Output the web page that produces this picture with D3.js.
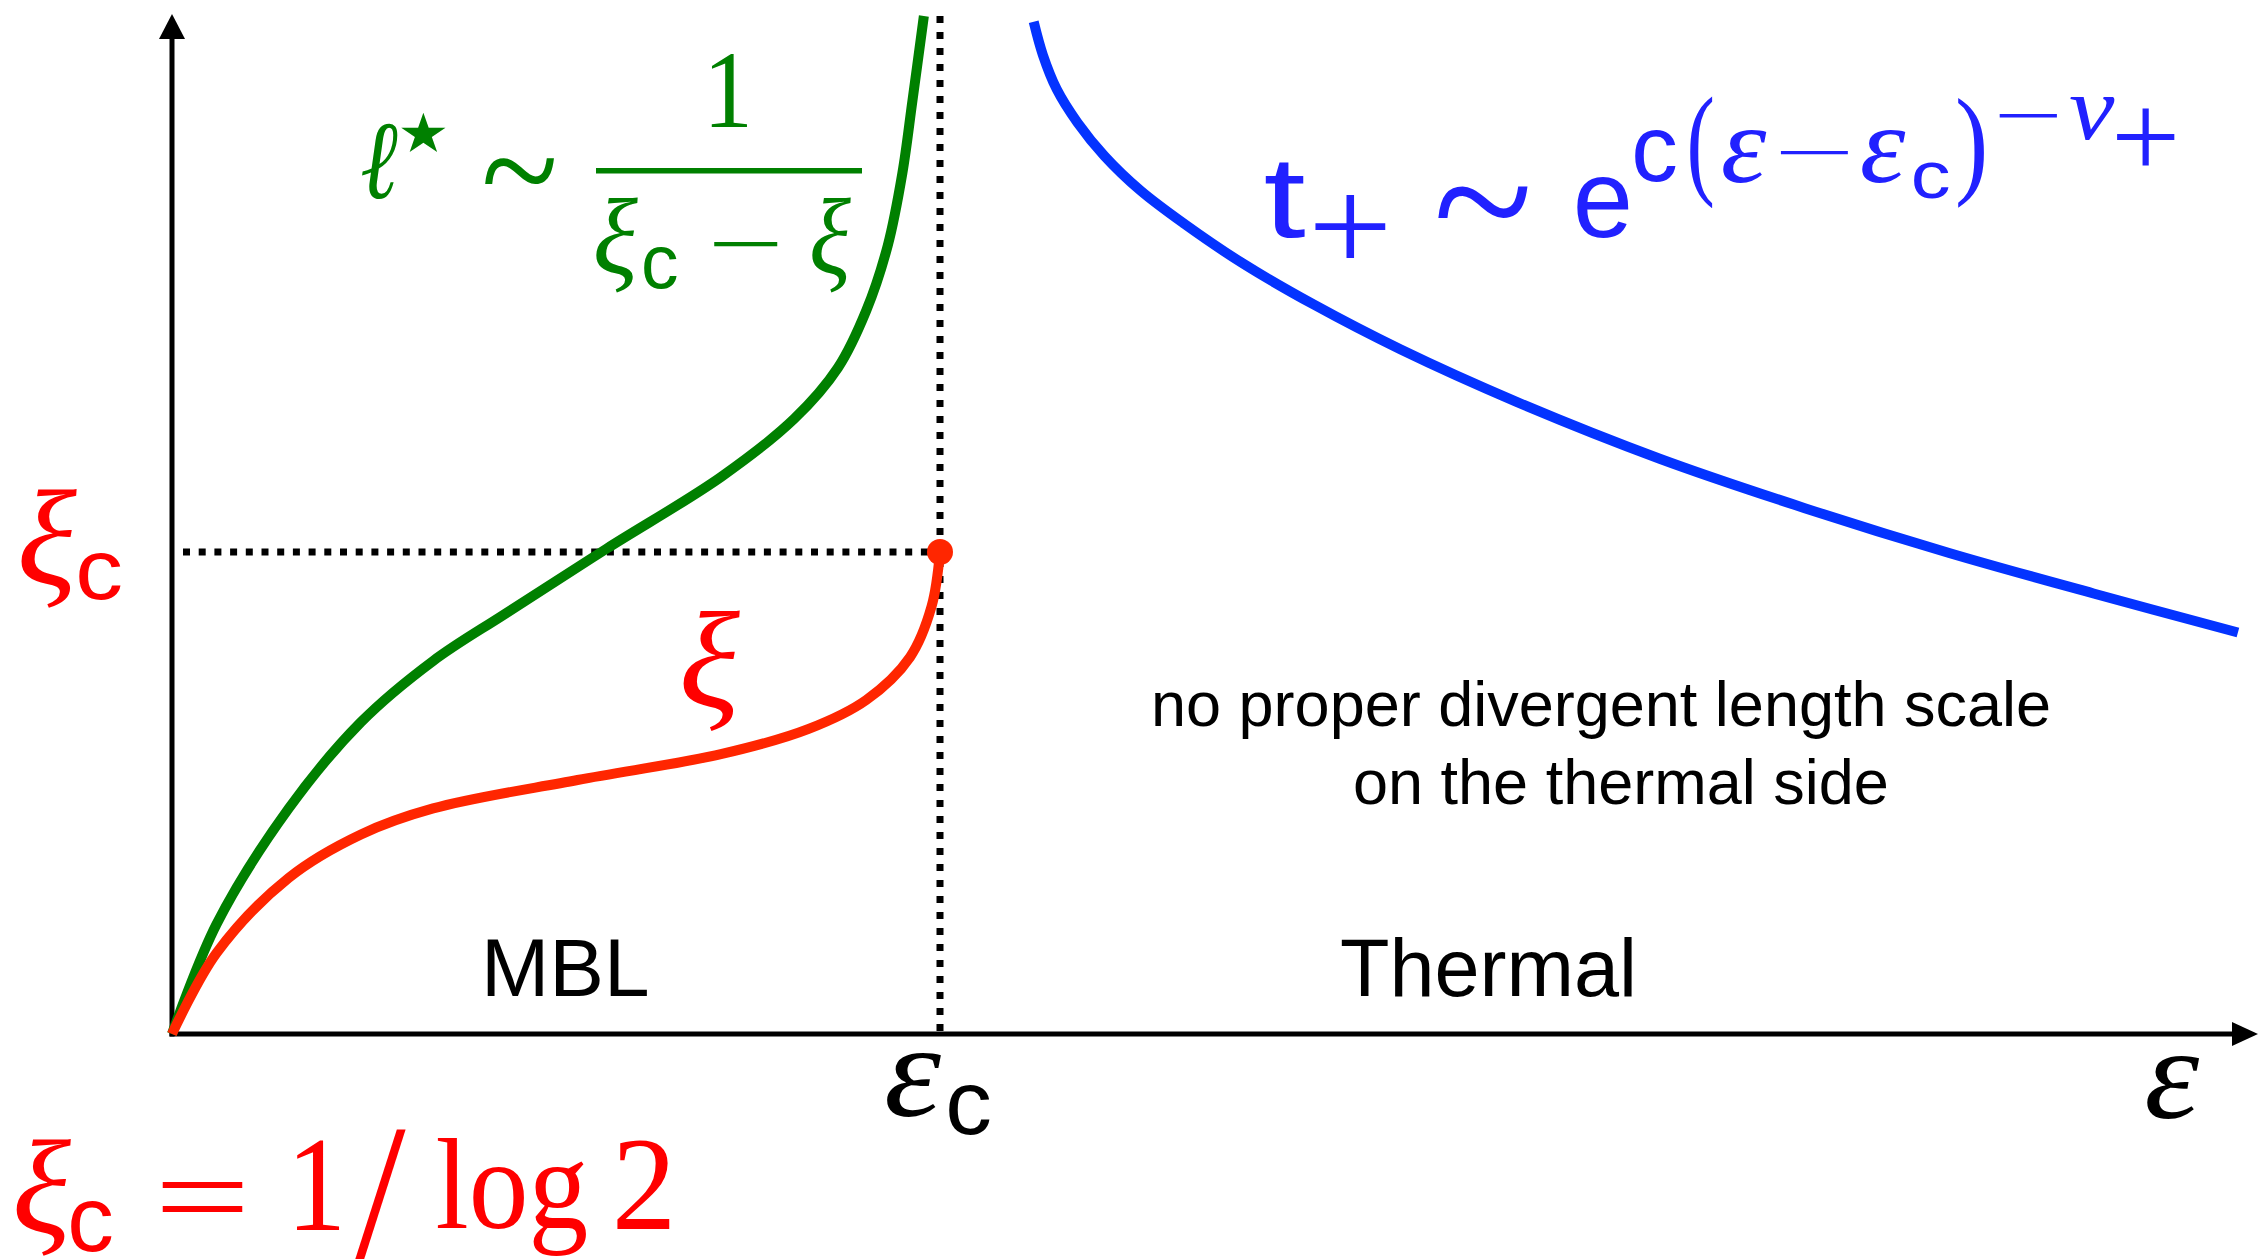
<!DOCTYPE html>
<html>
<head>
<meta charset="utf-8">
<title>MBL / thermal sketch</title>
<script src="https://cdnjs.cloudflare.com/ajax/libs/d3/7.8.5/d3.min.js"></script>
<style>
  body { margin: 0; background: #fff; }
  svg { display: block; }
</style>
</head>
<body>
<svg id="chart" width="2264" height="1259"></svg>
<script>
// critical point (plot units: eps_c = 1, xi_c = 1)
const epsC = 1, xiC = 1;

// green: l* on the MBL side
const ellEps = [0, 0.058, 0.152, 0.246, 0.340, 0.434, 0.566, 0.716, 0.810, 0.867, 0.904, 0.932, 0.951, 0.964, 0.979];
const ellVal = [0, 0.228, 0.468, 0.647, 0.774, 0.872, 1.007, 1.157, 1.276, 1.382, 1.501, 1.636, 1.786, 1.935, 2.112];

// red: xi on the MBL side
const xiEps = [0, 0.058, 0.152, 0.246, 0.340, 0.528, 0.716, 0.829, 0.904, 0.961, 0.989, 1.0];
const xiVal = [0, 0.168, 0.324, 0.414, 0.468, 0.527, 0.581, 0.633, 0.693, 0.782, 0.887, 1.0];

// blue: t+ on the thermal side
const tEps = [1.122, 1.134, 1.152, 1.179, 1.214, 1.261, 1.318, 1.393, 1.487, 1.600, 1.750, 1.938, 2.126, 2.314, 2.502, 2.690];
const tVal = [2.100, 2.031, 1.960, 1.891, 1.822, 1.750, 1.681, 1.600, 1.513, 1.420, 1.312, 1.193, 1.091, 0.998, 0.914, 0.833];

const green = '#008000', red = '#ff2600', redText = '#ff0000', blue = '#0433ff', blueText = '#2121ff';

const svg = d3.select('#chart');

let x = d3.scaleLinear().domain([0, 1]).range([172, 940]);
let y = d3.scaleLinear().domain([0, 1]).range([1034, 552]);

// axes with arrows
svg.append('line')
    .attr('x1', x(0) - 2.5).attr('x2', 2236)
    .attr('y1', y(0)).attr('y2', y(0))
    .attr('stroke', '#000').attr('stroke-width', 5);
svg.append('line')
    .attr('x1', x(0)).attr('x2', x(0))
    .attr('y1', y(0) + 2.5).attr('y2', 37)
    .attr('stroke', '#000').attr('stroke-width', 5);
svg.append('path')
    .attr('d', 'M2258,' + y(0) + 'L2232,' + (y(0) - 12) + 'L2232,' + (y(0) + 12) + 'Z')
    .attr('fill', '#000');
svg.append('path')
    .attr('d', 'M' + x(0) + ',14L' + (x(0) - 13) + ',39L' + (x(0) + 13) + ',39Z')
    .attr('fill', '#000');

// dotted guides to the critical point
svg.append('line')
    .attr('x1', 183).attr('x2', x(epsC))
    .attr('y1', y(xiC)).attr('y2', y(xiC))
    .attr('stroke', '#000').attr('stroke-width', 7)
    .attr('stroke-dasharray', '7 8.7');
svg.append('line')
    .attr('x1', x(epsC)).attr('x2', x(epsC))
    .attr('y1', 16).attr('y2', y(0))
    .attr('stroke', '#000').attr('stroke-width', 7)
    .attr('stroke-dasharray', '7 9');

let line = d3.line()
    .x(d => x(d[0]))
    .y(d => y(d[1]))
    .curve(d3.curveCatmullRom.alpha(0.5));

svg.append('path')
    .attr('d', line(d3.zip(ellEps, ellVal)))
    .attr('fill', 'none').attr('stroke', green).attr('stroke-width', 10);
svg.append('path')
    .attr('d', line(d3.zip(xiEps, xiVal)))
    .attr('fill', 'none').attr('stroke', red).attr('stroke-width', 10);
svg.append('path')
    .attr('d', line(d3.zip(tEps, tVal)))
    .attr('fill', 'none').attr('stroke', blue).attr('stroke-width', 10);

svg.append('circle')
    .attr('cx', x(epsC)).attr('cy', y(xiC)).attr('r', 13)
    .attr('fill', red);

// formula glyphs: each one is scaled so its ink fills the box
const ctx = document.createElement('canvas').getContext('2d');
const serif = '"Liberation Serif"', sans = '"Liberation Sans"', dv = '"DejaVu Sans"';

function glyph(str, box, family, style, color) {
    const fs = 100;
    ctx.font = style + ' normal ' + fs + 'px ' + family;
    const m = ctx.measureText(str);
    const L = m.actualBoundingBoxLeft, R = m.actualBoundingBoxRight;
    const A = m.actualBoundingBoxAscent, D = m.actualBoundingBoxDescent;
    const sx = (box[2] - box[0]) / (L + R);
    const sy = (box[3] - box[1]) / (A + D);
    svg.append('text')
        .attr('transform', 'translate(' + (box[0] + L * sx) + ',' + (box[1] + A * sy) + ') scale(' + sx + ',' + sy + ')')
        .attr('font-family', family)
        .attr('font-style', style)
        .attr('font-size', fs)
        .attr('fill', color)
        .text(str);
}

// l* ~ 1 / (xi_c - xi)
glyph('ℓ', [362, 123, 398, 199], serif, 'italic', green);
glyph('⋆', [401, 112, 446, 153], dv, 'normal', green);
glyph('~', [484, 158, 555, 184], serif, 'normal', green);
svg.append('rect').attr('x', 596).attr('y', 168).attr('width', 266).attr('height', 5.5).attr('fill', green);
glyph('1', [711, 54, 747, 127], serif, 'normal', green);
glyph('ξ', [596, 197, 638, 293], serif, 'italic', green);
glyph('c', [644, 247, 677, 289], sans, 'normal', green);
glyph('−', [713, 242, 778, 247], serif, 'normal', green);
glyph('ξ', [812, 197, 851, 293], serif, 'italic', green);

// t+ ~ e^{c(eps - eps_c)^{-nu+}}
glyph('t', [1265, 162, 1306, 238], sans, 'normal', blueText);
glyph('+', [1314, 194, 1386, 258], serif, 'normal', blueText);
glyph('~', [1437, 187, 1529, 219], serif, 'normal', blueText);
glyph('e', [1577, 177, 1629, 238], sans, 'normal', blueText);
glyph('c', [1635, 130, 1676, 182], sans, 'normal', blueText);
glyph('(', [1690, 97, 1713, 209], serif, 'normal', blueText);
glyph('ε', [1723, 130, 1767, 183], serif, 'italic', blueText);
glyph('−', [1780, 151, 1849, 155], serif, 'normal', blueText);
glyph('ε', [1862, 130, 1906, 183], serif, 'italic', blueText);
glyph('c', [1914, 162, 1949, 199], sans, 'normal', blueText);
glyph(')', [1958, 97, 1984, 209], serif, 'normal', blueText);
glyph('−', [1999, 114, 2058, 118], serif, 'normal', blueText);
glyph('ν', [2070, 97, 2115, 140], serif, 'italic', blueText);
glyph('+', [2116, 108, 2175, 166], serif, 'normal', blueText);

// xi_c on the y axis
glyph('ξ', [21, 490, 77, 610], serif, 'italic', redText);
glyph('c', [79, 553, 121, 600], sans, 'normal', redText);

// xi next to the red curve
glyph('ξ', [683, 611, 740, 733], serif, 'italic', redText);

// eps_c and eps on the x axis
glyph('ε', [887, 1053, 942, 1117], serif, 'italic', '#000');
glyph('c', [949, 1085, 990, 1135], sans, 'normal', '#000');
glyph('ε', [2147, 1056, 2200, 1119], serif, 'italic', '#000');

// xi_c = 1 / log 2
glyph('ξ', [16, 1138, 71, 1257], serif, 'italic', redText);
glyph('c', [71, 1201, 112, 1252], sans, 'normal', redText);
glyph('=', [161, 1182, 243, 1212], serif, 'normal', redText);
glyph('1', [296, 1140, 339, 1230], serif, 'normal', redText);
glyph('/', [355, 1132, 406, 1262], serif, 'normal', redText);
glyph('log', [438, 1138, 587, 1255], serif, 'normal', redText);
glyph('2', [617, 1140, 670, 1230], serif, 'normal', redText);

// plain labels
svg.append('text')
    .attr('x', 481).attr('y', 996)
    .attr('font-family', sans).attr('font-size', 82)
    .text('MBL');
svg.append('text')
    .attr('x', 1340).attr('y', 996)
    .attr('font-family', sans).attr('font-size', 81)
    .text('Thermal');
svg.append('text')
    .attr('x', 1151).attr('y', 726)
    .attr('font-family', sans).attr('font-size', 63)
    .text('no proper divergent length scale');
svg.append('text')
    .attr('x', 1353).attr('y', 804)
    .attr('font-family', sans).attr('font-size', 63)
    .text('on the thermal side');
</script>
</body>
</html>
